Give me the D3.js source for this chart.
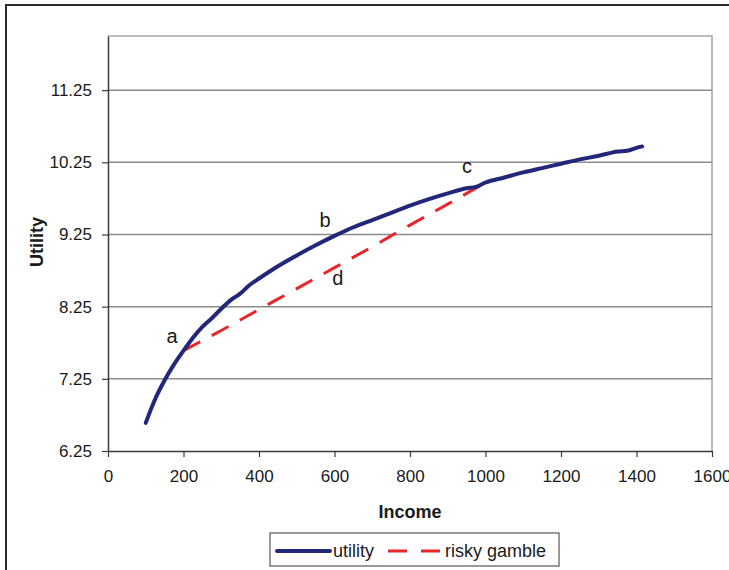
<!DOCTYPE html>
<html>
<head>
<meta charset="utf-8">
<script src="https://cdn.jsdelivr.net/npm/d3@7"></script>
<style>
  body { margin: 0; background: #fff; }
  svg { display: block; }
  text { font-family: "Liberation Sans", Arial, sans-serif; fill: #1a1a1a; }
</style>
</head>
<body>
<script>
// values
const income = [100, 125, 150, 175, 200, 225, 250, 275, 300, 325, 350, 375, 400, 450, 500, 550, 600, 650, 700, 750, 800, 850, 900, 950, 975, 1000, 1050, 1100, 1150, 1200, 1250, 1300, 1350, 1375, 1400, 1415];
const utility = [6.64, 6.97, 7.23, 7.45, 7.64, 7.82, 7.97, 8.09, 8.22, 8.34, 8.43, 8.55, 8.64, 8.81, 8.96, 9.10, 9.23, 9.35, 9.45, 9.55, 9.65, 9.74, 9.82, 9.89, 9.91, 9.97, 10.04, 10.11, 10.17, 10.23, 10.29, 10.34, 10.40, 10.41, 10.45, 10.47];
const gambleIncome = [200, 300, 400, 500, 600, 700, 800, 900, 1000];
const gambleUtility = [7.64, 7.92, 8.21, 8.50, 8.79, 9.08, 9.38, 9.67, 9.97];
const points = [
  { label: "a", x: 170, y: 7.75 },
  { label: "b", x: 575, y: 9.35 },
  { label: "c", x: 951, y: 10.10 },
  { label: "d", x: 609, y: 8.55 }
];
const xTicks = [0, 200, 400, 600, 800, 1000, 1200, 1400, 1600];
const yTicks = [6.25, 7.25, 8.25, 9.25, 10.25, 11.25];
const legendItems = ["utility", "risky gamble"];

const width = 729;
const height = 570;
const margin = { left: 108, top: 36, right: 712, bottom: 451 };

const body = d3.select("body");
const svg = body.append("svg")
  .attr("width", width)
  .attr("height", height);

// outer chart border (runs off the right and bottom)
svg.append("rect")
  .attr("x", 6)
  .attr("y", 5)
  .attr("width", 760)
  .attr("height", 600)
  .attr("fill", "none")
  .attr("stroke", "#2a2a2a")
  .attr("stroke-width", 2);

const x = d3.scaleLinear().domain([0, 1600]).range([margin.left, margin.right]);
const y = d3.scaleLinear().domain([6.25, 12]).range([margin.bottom, margin.top]);

// plot area frame (top + right)
svg.append("path")
  .attr("d", `M${margin.left},${margin.top}H${margin.right}V${margin.bottom}`)
  .attr("fill", "none")
  .attr("stroke", "#a6a6a6")
  .attr("stroke-width", 1.5);

// gridlines
svg.append("g")
  .selectAll("line")
  .data(yTicks.slice(1))
  .join("line")
  .attr("x1", margin.left)
  .attr("x2", margin.right)
  .attr("y1", d => y(d))
  .attr("y2", d => y(d))
  .attr("stroke", "#8c8c8c")
  .attr("stroke-width", 1.5);

const xAxis = d3.axisBottom(x)
  .tickValues(xTicks)
  .tickFormat(d3.format("d"))
  .tickSize(6)
  .tickSizeOuter(0)
  .tickPadding(13);

const yAxis = d3.axisLeft(y)
  .tickValues(yTicks)
  .tickFormat(d3.format(".2f"))
  .tickSize(6)
  .tickSizeOuter(0)
  .tickPadding(10);

const gx = svg.append("g")
  .attr("transform", `translate(0,${margin.bottom})`)
  .call(xAxis);

const gy = svg.append("g")
  .attr("transform", `translate(${margin.left},0)`)
  .call(yAxis);

[gx, gy].forEach(g => {
  g.select(".domain").attr("stroke", "#3a3a3a").attr("stroke-width", 1.5);
  g.selectAll(".tick line").attr("stroke", "#3a3a3a").attr("stroke-width", 1.2);
  g.selectAll(".tick text")
    .attr("font-family", "Liberation Sans, Arial, sans-serif")
    .attr("font-size", 17)
    .attr("fill", "#1a1a1a");
});

// axis titles
svg.append("text")
  .attr("x", 410)
  .attr("y", 518)
  .attr("text-anchor", "middle")
  .attr("font-size", 18)
  .attr("font-weight", "bold")
  .text("Income");

svg.append("text")
  .attr("transform", `translate(43,242) rotate(-90)`)
  .attr("text-anchor", "middle")
  .attr("font-size", 18)
  .attr("font-weight", "bold")
  .text("Utility");

const line = d3.line()
  .x(d => x(d[0]))
  .y(d => y(d[1]))
  .curve(d3.curveMonotoneX);

svg.append("path")
  .datum(gambleIncome.map((d, i) => [d, gambleUtility[i]]))
  .attr("fill", "none")
  .attr("stroke", "#e8262b")
  .attr("stroke-width", 3)
  .attr("stroke-dasharray", "19,13")
  .attr("d", line);

svg.append("path")
  .datum(income.map((d, i) => [d, utility[i]]))
  .attr("fill", "none")
  .attr("stroke", "#22277a")
  .attr("stroke-width", 4)
  .attr("stroke-linecap", "round")
  .attr("stroke-linejoin", "round")
  .attr("d", line);

// point labels
svg.append("g")
  .selectAll("text")
  .data(points)
  .join("text")
  .attr("x", d => x(d.x))
  .attr("y", d => y(d.y))
  .attr("text-anchor", "middle")
  .attr("font-family", "Open Sans, sans-serif")
  .attr("font-size", 20)
  .text(d => d.label);

// legend
const legend = svg.append("g")
  .attr("transform", "translate(270,533)");

legend.append("rect")
  .attr("width", 289)
  .attr("height", 33)
  .attr("fill", "#fff")
  .attr("stroke", "#555")
  .attr("stroke-width", 1.2);

legend.append("line")
  .attr("x1", 7).attr("x2", 60)
  .attr("y1", 18).attr("y2", 18)
  .attr("stroke", "#22277a")
  .attr("stroke-width", 4)
  .attr("stroke-linecap", "round");

legend.append("text")
  .attr("x", 63)
  .attr("y", 24)
  .attr("font-size", 18)
  .text(legendItems[0]);

legend.append("line")
  .attr("x1", 118).attr("x2", 170)
  .attr("y1", 18).attr("y2", 18)
  .attr("stroke", "#e8262b")
  .attr("stroke-width", 3)
  .attr("stroke-dasharray", "19,14");

legend.append("text")
  .attr("x", 175)
  .attr("y", 24)
  .attr("font-size", 18)
  .text(legendItems[1]);
</script>
</body>
</html>
